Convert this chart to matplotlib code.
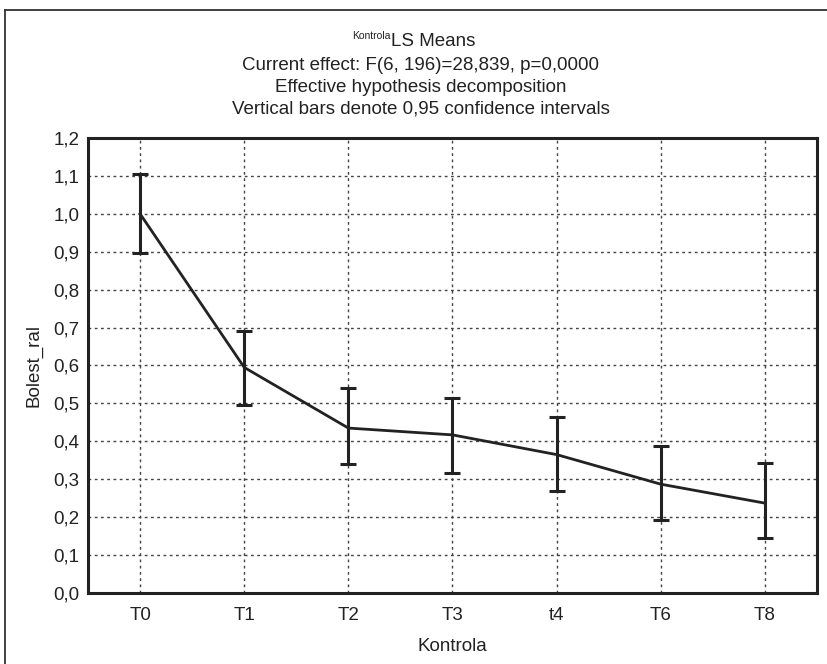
import matplotlib
matplotlib.use("Agg")
import matplotlib.pyplot as plt
from matplotlib.ticker import FuncFormatter, MultipleLocator
from matplotlib.lines import Line2D

plt.rcParams['font.family'] = ['Liberation Sans', 'DejaVu Sans']

categories = ['T0', 'T1', 'T2', 'T3', 't4', 'T6', 'T8']
means = [1.0, 0.595, 0.435, 0.417, 0.365, 0.287, 0.237]
ci_low = [0.898, 0.497, 0.340, 0.316, 0.268, 0.192, 0.145]
ci_high = [1.105, 0.690, 0.540, 0.515, 0.465, 0.388, 0.342]

fig = plt.figure(figsize=(8.28, 6.64), dpi=100)
ax = fig.add_axes([88 / 828, 1 - 593 / 664, (817 - 88) / 828, (593 - 138) / 664])

x = list(range(len(categories)))
yerr = [[m - lo for m, lo in zip(means, ci_low)],
        [hi - m for m, hi in zip(means, ci_high)]]
ax.errorbar(x, means, yerr=yerr, color='#222222', lw=2, elinewidth=2.2,
            capsize=5.5, capthick=2.2, zorder=3)

ax.set_xlim(-0.5, len(categories) - 0.5)
ax.set_ylim(0, 1.2)
ax.set_xticks(x)
ax.set_xticklabels(categories)
ax.yaxis.set_major_locator(MultipleLocator(0.1))
ax.yaxis.set_major_formatter(FuncFormatter(lambda v, p: f'{v:.1f}'.replace('.', ',')))
ax.tick_params(length=0, labelsize=13.5, colors='#222222')
ax.tick_params(axis='y', pad=6)
ax.tick_params(axis='x', pad=10)
ax.grid(True, linestyle=(0, (2, 2.5)), color='#444444', lw=1)
for s in ax.spines.values():
    s.set_linewidth(2.2)
    s.set_color('#222222')

ax.set_xlabel('Kontrola', fontsize=13.5, color='#222222', labelpad=10)
ax.set_ylabel('Bolest_ral', fontsize=13.5, color='#222222', labelpad=8)

# titulky
cx = 421 / 828
fig.text(391 / 828, 1 - 42 / 664, 'LS Means', ha='left', va='center', fontsize=13.5, color='#222222')
fig.text(391 / 828, 1 - 36 / 664, 'Kontrola', ha='right', va='center', fontsize=7.5, color='#222222')
fig.text(cx, 1 - 65 / 664, 'Current effect: F(6, 196)=28,839, p=0,0000', ha='center', va='center',
         fontsize=13.5, color='#222222')
fig.text(cx, 1 - 87 / 664, 'Effective hypothesis decomposition', ha='center', va='center',
         fontsize=13.5, color='#222222')
fig.text(cx, 1 - 109 / 664, 'Vertical bars denote 0,95 confidence intervals', ha='center', va='center',
         fontsize=13.5, color='#222222')

# okvir
fig.add_artist(Line2D([5 / 828, 5 / 828], [0, 1 - 10 / 664], color='#333333', lw=1.3))
fig.add_artist(Line2D([5 / 828, 1], [1 - 10 / 664, 1 - 10 / 664], color='#333333', lw=1.3))

fig.savefig('out.png', dpi=100)
